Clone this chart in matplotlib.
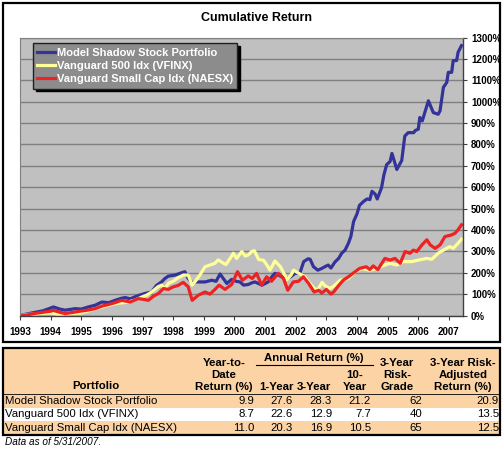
import matplotlib
matplotlib.use("Agg")
import matplotlib.pyplot as plt
from matplotlib.patches import Rectangle
from matplotlib.ticker import FuncFormatter

plt.rcParams['font.family'] = ['Liberation Sans', 'DejaVu Sans']

# Model Shadow Stock Portfolio (cumulative return, %)
blue_t = [1993.0, 1993.25, 1993.5, 1993.75, 1994.0, 1994.09, 1994.3, 1994.47, 1994.8, 1995.0,
          1995.23, 1995.45, 1995.67, 1995.9, 1996.1, 1996.3, 1996.43, 1996.6, 1996.75, 1996.9,
          1997.08, 1997.3, 1997.45, 1997.62, 1997.73, 1997.84, 1998.06, 1998.28, 1998.38, 1998.49,
          1998.64, 1998.71, 1998.87, 1999.04, 1999.26, 1999.4, 1999.53, 1999.65, 1999.75, 1999.91,
          2000.05, 2000.18, 2000.3, 2000.45, 2000.57, 2000.67, 2000.9, 2001.1, 2001.22, 2001.32,
          2001.44, 2001.54, 2001.66, 2001.8, 2001.98, 2002.14, 2002.26, 2002.4, 2002.47, 2002.58,
          2002.72, 2002.85, 2002.95, 2003.06, 2003.15, 2003.28, 2003.4, 2003.5, 2003.61, 2003.72,
          2003.8, 2003.89, 2004.0, 2004.08, 2004.22, 2004.33, 2004.42, 2004.49, 2004.59, 2004.66,
          2004.8, 2004.88, 2004.97, 2005.08, 2005.14, 2005.3, 2005.46, 2005.56, 2005.67, 2005.85,
          2005.9, 2006.0, 2006.05, 2006.13, 2006.33, 2006.49, 2006.65, 2006.71, 2006.82, 2006.93,
          2006.98, 2007.09, 2007.14, 2007.25, 2007.3, 2007.41]
blue_v = [0, 8, 15, 22, 35, 40, 30, 25, 32, 30,
          40, 48, 63, 60, 71, 80, 84, 78, 87, 95,
          103, 110, 140, 157, 173, 184, 189, 200, 205, 173,
          150, 157, 157, 157, 165, 160, 194, 170, 150, 169,
          160, 157, 142, 145, 153, 157, 142, 157, 181, 197,
          189, 181, 173, 178, 197, 200, 252, 265, 263, 228,
          212, 220, 228, 236, 222, 250, 267, 291, 306, 338,
          370, 440, 475, 515, 534, 545, 542, 581, 568, 545,
          597, 659, 706, 720, 758, 683, 725, 839, 855, 855,
          865, 871, 926, 910, 1004, 949, 941, 957, 1067, 1090,
          1137, 1137, 1192, 1192, 1231, 1262]

# Vanguard 500 Idx (VFINX)
yellow_t = [1993.0, 1993.25, 1993.5, 1993.75, 1994.0, 1994.25, 1994.5, 1994.75, 1995.0, 1995.25,
            1995.5, 1995.75, 1996.0, 1996.25, 1996.5, 1996.75, 1997.0, 1997.13, 1997.3, 1997.5,
            1997.62, 1997.73, 1997.84, 1998.0, 1998.15, 1998.33, 1998.49, 1998.62, 1998.75, 1998.87,
            1999.04, 1999.2, 1999.36, 1999.47, 1999.6, 1999.72, 1999.85, 1999.96, 2000.07, 2000.24,
            2000.35, 2000.45, 2000.57, 2000.65, 2000.79, 2000.95, 2001.06, 2001.16, 2001.32, 2001.5,
            2001.72, 2001.85, 2001.93, 2002.2, 2002.3, 2002.42, 2002.55, 2002.68, 2002.74, 2002.86,
            2002.95, 2003.12, 2003.28, 2003.45, 2003.72, 2003.94, 2004.16, 2004.42, 2004.64, 2004.91,
            2005.08, 2005.3, 2005.51, 2005.78, 2006.0, 2006.27, 2006.44, 2006.65, 2006.87, 2007.03,
            2007.14, 2007.3, 2007.41]
yellow_v = [0, 5, 7, 10, 12, 5, 8, 10, 12, 22,
            33, 42, 52, 58, 62, 72, 88, 95, 110, 134,
            142, 125, 150, 160, 175, 189, 189, 142, 165, 189,
            228, 236, 244, 260, 248, 238, 265, 291, 267, 299,
            278, 283, 300, 303, 262, 258, 236, 212, 255, 228,
            168, 190, 212, 189, 181, 157, 135, 118, 126, 155,
            140, 126, 142, 165, 173, 205, 220, 212, 220, 236,
            244, 236, 252, 252, 259, 267, 263, 291, 310, 322,
            314, 338, 357]

# Vanguard Small Cap Idx (NAESX)
red_t = [1993.0, 1993.25, 1993.5, 1993.75, 1994.0, 1994.09, 1994.3, 1994.47, 1994.75, 1995.0,
         1995.25, 1995.45, 1995.7, 1995.88, 1996.1, 1996.32, 1996.6, 1996.86, 1997.05, 1997.19,
         1997.35, 1997.52, 1997.68, 1997.84, 1998.0, 1998.15, 1998.33, 1998.49, 1998.62, 1998.82,
         1999.04, 1999.2, 1999.35, 1999.5, 1999.69, 1999.91, 2000.1, 2000.26, 2000.45, 2000.58,
         2000.72, 2000.89, 2001.05, 2001.21, 2001.43, 2001.6, 2001.74, 2001.92, 2002.09, 2002.25,
         2002.42, 2002.6, 2002.75, 2002.85, 2003.0, 2003.15, 2003.25, 2003.4, 2003.55, 2003.72,
         2003.94, 2004.08, 2004.3, 2004.42, 2004.53, 2004.68, 2004.91, 2005.08, 2005.24, 2005.41,
         2005.57, 2005.73, 2005.84, 2005.95, 2006.12, 2006.28, 2006.39, 2006.55, 2006.71, 2006.87,
         2007.09, 2007.2, 2007.3, 2007.41]
red_v = [0, 3, 10, 15, 20, 24, 15, 9, 15, 21,
         26, 32, 45, 51, 60, 71, 63, 79, 75, 71,
         90, 103, 126, 122, 134, 140, 155, 134, 71, 95,
         110, 100, 120, 142, 122, 145, 205, 165, 185, 173,
         197, 142, 181, 160, 197, 173, 118, 157, 160, 181,
         150, 110, 118, 105, 122, 100, 112, 140, 165, 181,
         205, 220, 228, 215, 232, 215, 267, 259, 267, 244,
         299, 291, 306, 299, 330, 354, 330, 314, 330, 369,
         377, 385, 401, 424]

series_names = ["Model Shadow Stock Portfolio", "Vanguard 500 Idx (VFINX)", "Vanguard Small Cap Idx (NAESX)"]
series_colors = ["#333399", "#FFFF99", "#EE2222"]
years = list(range(1993, 2008))
y_ticks = list(range(0, 1400, 100))

# table data
col_heads = ["Year-to-\nDate\nReturn (%)", "1-Year", "3-Year", "10-\nYear", "3-Year\nRisk-\nGrade",
             "3-Year Risk-\nAdjusted\nReturn (%)"]
table_rows = ["Model Shadow Stock Portfolio", "Vanguard 500 Idx (VFINX)", "Vanguard Small Cap Idx (NAESX)"]
table_vals = [["9.9", "27.6", "28.3", "21.2", "62", "20.9"],
              ["8.7", "22.6", "12.9", "7.7", "40", "13.5"],
              ["11.0", "20.3", "16.9", "10.5", "65", "12.5"]]
note = "Data as of 5/31/2007."

W, H = 504, 450
fig = plt.figure(figsize=(W / 100, H / 100), dpi=100)

# overlay axes in pixel coordinates for frames and table
bg = fig.add_axes([0, 0, 1, 1])
bg.set_xlim(0, W)
bg.set_ylim(H, 0)
bg.axis('off')
bg.add_patch(Rectangle((3, 3), 497, 339, fill=False, edgecolor='black', lw=1.6))

# chart
ax = fig.add_axes([20 / W, 1 - 315.5 / H, 442.7 / W, 278 / H])
ax.set_facecolor('#C0C0C0')
ax.plot(blue_t, blue_v, color=series_colors[0], lw=2.3, label=series_names[0])
ax.plot(yellow_t, yellow_v, color=series_colors[1], lw=2.3, label=series_names[1])
ax.plot(red_t, red_v, color=series_colors[2], lw=2.3, label=series_names[2])
ax.set_xlim(1993, 2007.45)
ax.set_ylim(0, 1300)
ax.set_yticks(y_ticks)
ax.yaxis.set_major_formatter(FuncFormatter(lambda v, p: f"{int(v)}%"))
ax.yaxis.tick_right()
ax.set_xticks(years)
ax.set_xticklabels([str(y) for y in years])
ax.grid(axis='y', color='#808080', lw=1.0)
ax.set_axisbelow(True)
ax.tick_params(axis='both', labelsize=7, length=3, width=0.8, color='#404040', pad=3)
ax.tick_params(axis='x', pad=5)
for lab in ax.get_xticklabels() + ax.get_yticklabels():
    lab.set_fontweight('bold')
for side in ['left', 'top']:
    ax.spines[side].set_color('#808080')
for side in ['right', 'bottom']:
    ax.spines[side].set_color('#404040')
    ax.spines[side].set_linewidth(1.0)
ax.text(0.535, 1.05, "Cumulative Return", transform=ax.transAxes, ha='center', va='bottom',
        fontsize=9, fontweight='bold')
leg = ax.legend(loc='upper left', bbox_to_anchor=(0.029, 0.98), borderaxespad=0, fancybox=False,
                shadow={'color': 'black', 'alpha': 1.0}, facecolor='#8C8C8C', edgecolor='#202020',
                framealpha=1, handlelength=1.6, handletextpad=0.15, labelspacing=0.3,
                borderpad=0.4, prop={'weight': 'bold', 'size': 8})
for t in leg.get_texts():
    t.set_color('white')

# table
peach = '#FBD3A5'
bg.add_patch(Rectangle((3, 348), 497, 45.5, facecolor=peach, edgecolor='none'))
bg.add_patch(Rectangle((3, 393.5), 497, 14, facecolor=peach, edgecolor='none'))
bg.add_patch(Rectangle((3, 421.2), 497, 13.8, facecolor=peach, edgecolor='none'))
bg.plot([3, 500], [393.5, 393.5], color='black', lw=0.6)
bg.add_patch(Rectangle((3, 348), 497, 87, fill=False, edgecolor='black', lw=1.6))

fs = 8.2
head_x = [224, 276, 314, 355, 397, 463]
val_x = [254, 293, 332, 371, 422, 499]
bg.text(96, 386, "Portfolio", ha='center', va='center', fontsize=fs, fontweight='bold')
bg.text(314, 358, "Annual Return (%)", ha='center', va='center', fontsize=fs, fontweight='bold')
bg.plot([256, 373], [364.5, 364.5], color='black', lw=0.8)
for hx, h in zip(head_x, col_heads):
    bg.text(hx, 392, h, ha='center', va='bottom', fontsize=fs, fontweight='bold',
            linespacing=1.25)
row_y = [400.7, 414.3, 428]
for ry, name, vals in zip(row_y, table_rows, table_vals):
    bg.text(5, ry, name, ha='left', va='center', fontsize=fs)
    for vx, v in zip(val_x, vals):
        bg.text(vx, ry, v, ha='right', va='center', fontsize=fs)
bg.text(5, 442, note, ha='left', va='center', fontsize=7.2, style='italic')

fig.savefig("out.png", dpi=100)
